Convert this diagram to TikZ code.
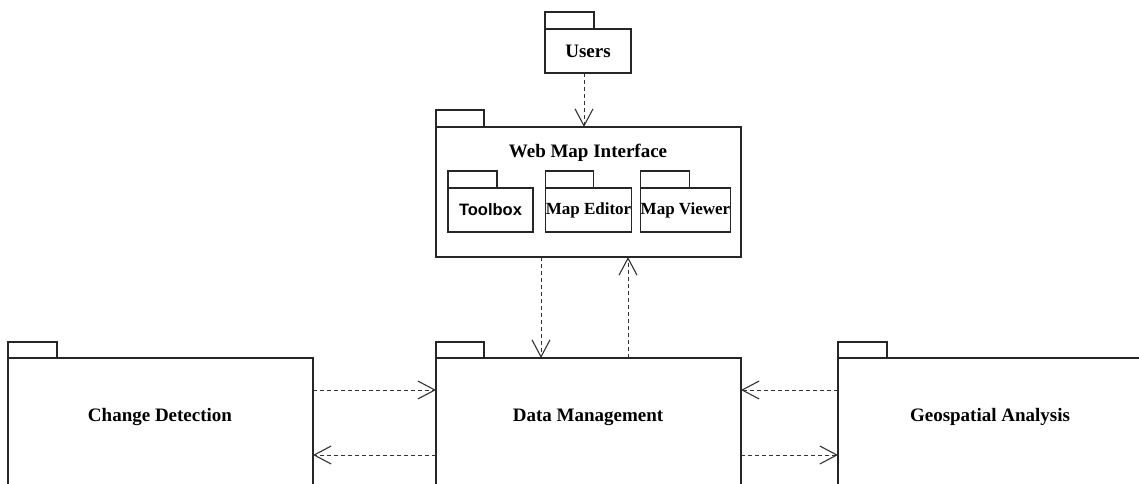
\documentclass[tikz,border=0pt]{standalone}
\usepackage{fontspec}
\setmainfont{Liberation Serif}
\newfontfamily\arialfont{Liberation Sans}
\usetikzlibrary{arrows.meta}
\tikzset{
  pkg/.style={draw=black!85, line width=1.1pt, fill=white, inner sep=0pt, outer sep=0pt,
              font=\bfseries\fontsize{19}{22}\selectfont},
  subpkg/.style={pkg, minimum width=85pt, minimum height=44pt,
                 font=\bfseries\fontsize{17}{20}\selectfont},
  tabline/.style={draw=black!85, line width=1.1pt},
  title/.style={inner sep=0pt, font=\bfseries\fontsize{19}{22}\selectfont},
  dep/.style={draw=black!80, line width=1pt, dash pattern=on 4pt off 3pt,
              -{Straight Barb[length=17pt,width=18pt,line width=1.1pt]}}
}
\begin{document}
\begin{tikzpicture}[x=1pt,y=1pt]
\useasboundingbox (0,0) rectangle (1139,483);
\clip (0,0) rectangle (1139,483);

% Users
\node[pkg, minimum width=86pt, minimum height=44pt] (users) at (588,432) {Users};
\draw[tabline] (users.north west) rectangle ++(49,17);

% Web Map Interface with its three inner packages
\node[pkg, minimum width=305pt, minimum height=130pt] (wm) at (588.5,291) {};
\draw[tabline] (wm.north west) rectangle ++(48,17);
\node[title] (wmtitle) at (588,330) {Web Map Interface};

\node[subpkg, font=\arialfont\bfseries\fontsize{16.5}{20}\selectfont] (toolbox) at (490.5,273) {Toolbox};
\draw[tabline] (toolbox.north west) rectangle ++(49,17);
\node[subpkg] (editor) at (588.5,273) {Map Editor};
\draw[tabline] (editor.north west) rectangle ++(48,17);
\node[subpkg] (viewer) at (685.5,273) {Map Viewer};
\draw[tabline] (viewer.north west) rectangle ++(49,17);

% Bottom row of packages (cut by the page edge)
\node[pkg, minimum width=305pt, minimum height=160pt] (cd) at (160.5,45) {};
\draw[tabline] (cd.north west) rectangle ++(49,16);
\node[title] (cdtitle) at (160,66) {Change Detection};

\node[pkg, minimum width=305pt, minimum height=160pt] (dm) at (588.5,45) {};
\draw[tabline] (dm.north west) rectangle ++(48,16);
\node[title] (dmtitle) at (588,66) {Data Management};

\node[pkg, minimum width=310pt, minimum height=160pt] (ga) at (993,45) {};
\draw[tabline] (ga.north west) rectangle ++(49,16);
\node[title] (gatitle) at (990,66) {Geospatial Analysis};

% Dependencies
\draw[dep] (users.south) ++(-4,0) coordinate (u1) -- (u1 |- wm.north);
\draw[dep] ([xshift=-47.5pt]wm.south) -- ([xshift=-47.5pt]dm.north);
\draw[dep] ([xshift=39.5pt]dm.north) -- ([xshift=39.5pt]wm.south);

\draw[dep] ([yshift=-32pt]cd.north east) -- ([yshift=-32pt]dm.north west);
\draw[dep] ([yshift=-97pt]dm.north west) -- ([yshift=-97pt]cd.north east);
\draw[dep] ([yshift=-32pt]ga.north west) -- ([yshift=-32pt]dm.north east);
\draw[dep] ([yshift=-97pt]dm.north east) -- ([yshift=-97pt]ga.north west);
\end{tikzpicture}
\end{document}
